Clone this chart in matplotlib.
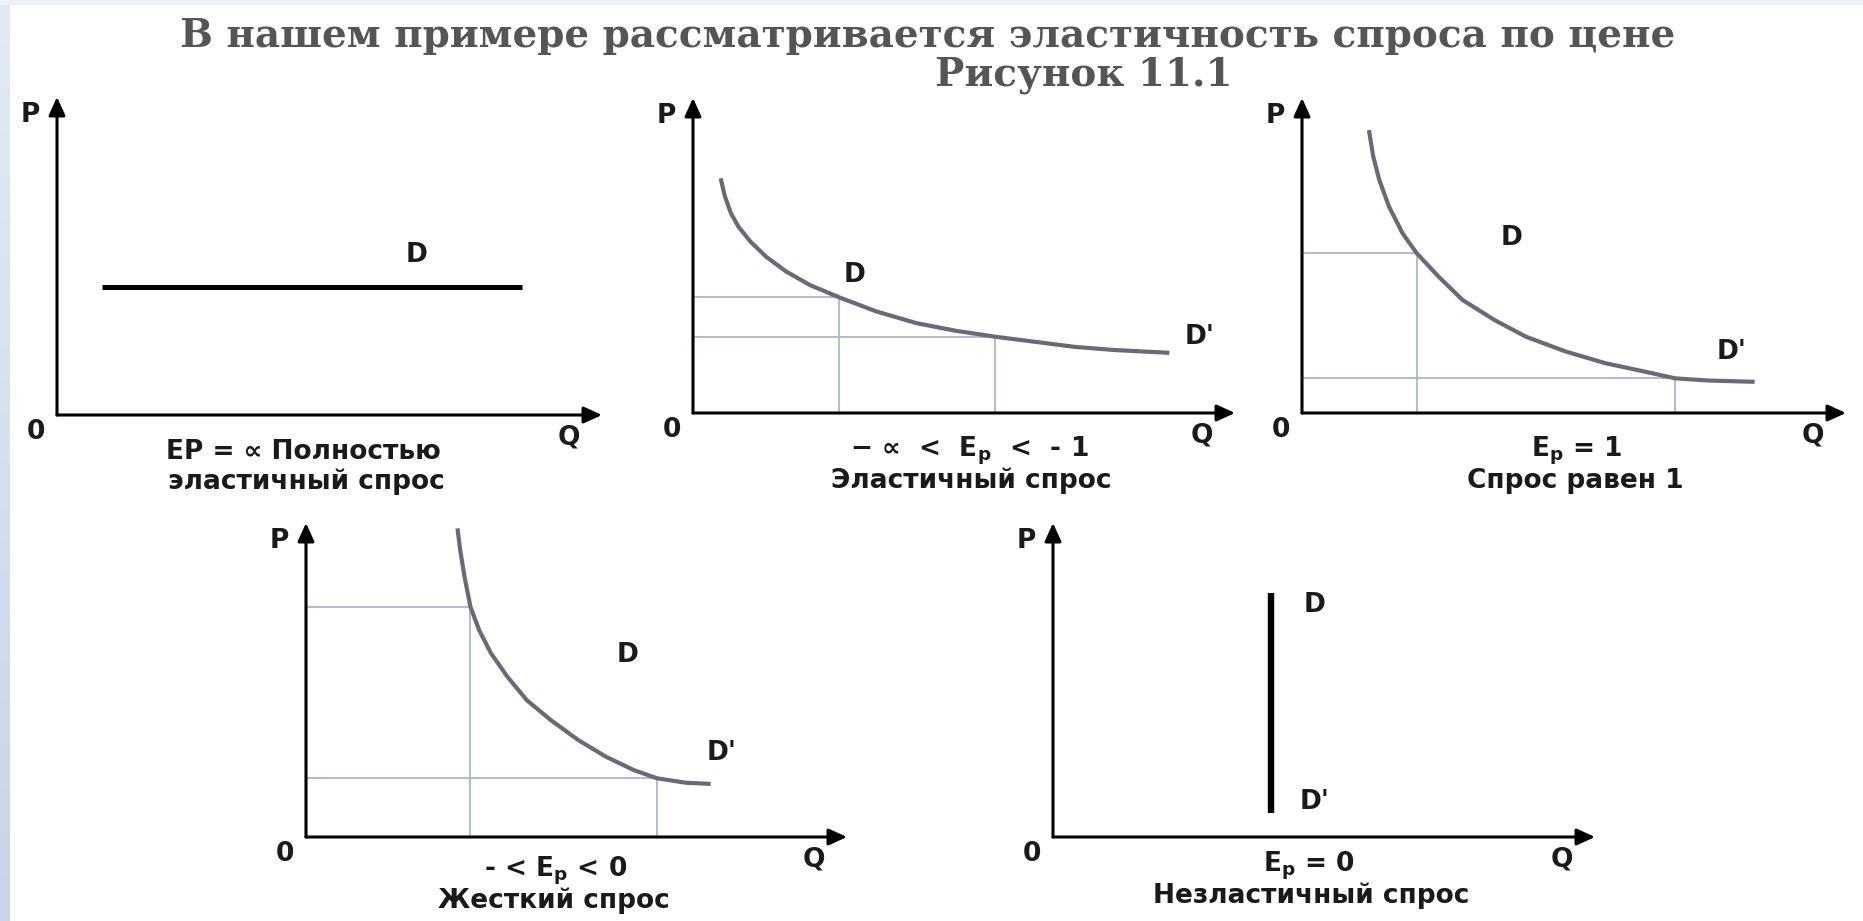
import numpy as np
import matplotlib.pyplot as plt
from matplotlib.colors import LinearSegmentedColormap
from matplotlib.patches import Rectangle

plt.rcParams['mathtext.fontset'] = 'dejavusans'

W, H = 1863, 921

title = "В нашем примере рассматривается эластичность спроса по цене"
subtitle = "Рисунок 11.1"

# panel 1 - perfectly elastic demand (horizontal line)
p1_q = [0.83, 8.53]
p1_p = [4.03, 4.03]

# panel 2 - elastic demand
p2_q = [0.51, 0.59, 0.70, 0.84, 1.06, 1.35, 1.72, 2.16, 2.70, 3.39, 4.13, 4.85, 5.58, 6.31, 7.04, 7.77, 8.79]
p2_p = [7.45, 6.87, 6.34, 5.91, 5.44, 4.96, 4.49, 4.06, 3.67, 3.22, 2.85, 2.61, 2.42, 2.26, 2.10, 2.00, 1.91]
p2_guide_q = [2.70, 5.58]
p2_guide_p = [3.67, 2.42]

# panel 3 - unit elasticity
p3_q = [1.23, 1.31, 1.42, 1.60, 1.85, 2.11, 2.51, 2.95, 3.54, 4.12, 4.85, 5.58, 6.31, 6.86, 7.48, 8.32]
p3_p = [8.98, 8.14, 7.40, 6.55, 5.70, 5.07, 4.33, 3.59, 2.95, 2.42, 1.95, 1.58, 1.31, 1.10, 1.03, 0.99]
p3_guide_q = [2.11, 6.86]
p3_guide_p = [5.07, 1.10]

# panel 4 - inelastic ("rigid") demand
p4_q = [2.80, 2.85, 2.93, 3.04, 3.20, 3.42, 3.72, 4.08, 4.52, 5.03, 5.54, 6.06, 6.49, 7.01, 7.48]
p4_p = [9.83, 9.14, 8.29, 7.33, 6.59, 5.85, 5.11, 4.36, 3.73, 3.09, 2.56, 2.13, 1.87, 1.73, 1.69]
p4_guide_q = [3.04, 6.49]
p4_guide_p = [7.33, 1.87]

# panel 5 - perfectly inelastic (vertical line)
p5_q = [4.02, 4.02]
p5_p = [0.76, 7.77]

# curve labels (text, Q, P) per panel
curve_labels = [
    [("D", 6.59, 5.03)],
    [("D", 2.99, 4.38), ("D'", 9.34, 2.41)],
    [("D", 3.86, 5.56), ("D'", 7.89, 1.94)],
    [("D", 5.95, 5.80), ("D'", 7.69, 2.68)],
    [("D", 4.82, 7.39), ("D'", 4.82, 1.11)],
]

captions = [
    ("EP = ∝ Полностью", "эластичный спрос"),
    (r"− ∝  <  E$_\mathbf{p}$  <  - 1", "Эластичный спрос"),
    (r"E$_\mathbf{p}$ = 1", "Спрос равен 1"),
    (r"- < E$_\mathbf{p}$ < 0", "Жесткий спрос"),
    (r"E$_\mathbf{p}$ = 0", "Незластичный спрос"),
]

# panel boxes in pixels: origin x, origin y, arrow-tip x, arrow-tip y
boxes = [(57, 415, 602, 97), (693, 413, 1235, 98), (1302, 413, 1846, 98),
         (306, 837, 847, 523), (1053, 837, 1595, 523)]
caption_xy = [((303, 452), (306, 482)), ((969, 451), (971, 481)), ((1577, 451), (1575, 481)),
              ((556, 871), (554, 901)), ((1309, 866), (1311, 896))]


def fpos(x, y):
    return x / W, 1 - y / H


fig = plt.figure(figsize=(W / 100, H / 100), dpi=100)
fig.patch.set_facecolor('white')

# slide decoration: light blue strip on the left, thin band on top
sax = fig.add_axes([0, 0, 10 / W, 1])
cmap = LinearSegmentedColormap.from_list('strip', ['#e3eaf4', '#c6d5ea'])
sax.imshow(np.linspace(0, 1, 256).reshape(-1, 1), aspect='auto', cmap=cmap)
sax.axis('off')
fig.patches.append(Rectangle((0, 1 - 4 / H), 1, 4 / H, transform=fig.transFigure,
                             color='#eef1f6', zorder=0))

fig.text(*fpos(928, 36), title, ha='center', va='center', family='DejaVu Serif',
         weight='bold', size=28, color='#555555')
fig.text(*fpos(1084, 75), subtitle, ha='center', va='center', family='DejaVu Serif',
         weight='bold', size=28, color='#555555')

arrow = dict(arrowstyle='-|>,head_length=0.55,head_width=0.25', lw=2.2, color='black',
             mutation_scale=20, shrinkA=0, shrinkB=0)
label_kw = dict(family='DejaVu Sans', weight='bold', size=19, color='#1a1a1a')
cap_kw = dict(family='DejaVu Sans', weight='bold', size=19, color='#1a1a1a',
              ha='center', va='center')

curves = [(None, None), (p2_q, p2_p), (p3_q, p3_p), (p4_q, p4_p), (None, None)]
guides = [(None, None), (p2_guide_q, p2_guide_p), (p3_guide_q, p3_guide_p),
          (p4_guide_q, p4_guide_p), (None, None)]

for i, (x0, y0, x1, yt) in enumerate(boxes):
    ax = fig.add_axes([x0 / W, 1 - y0 / H, (x1 - x0) / W, (y0 - yt) / H])
    ax.set_xlim(0, 10)
    ax.set_ylim(0, 10)
    ax.axis('off')

    ax.annotate('', xy=(1, 0), xytext=(0, 0), xycoords='axes fraction', arrowprops=arrow)
    ax.annotate('', xy=(0, 1), xytext=(0, 0), xycoords='axes fraction', arrowprops=arrow)

    gq, gp = guides[i]
    if gq is not None:
        for q, p in zip(gq, gp):
            ax.plot([0, q], [p, p], color='#a3b2c6', lw=1.2, zorder=1)
            ax.plot([q, q], [0, p], color='#a3b2c6', lw=1.2, zorder=1)

    cq, cp = curves[i]
    if cq is not None:
        ax.plot(cq, cp, color='#6a6a76', lw=3.0, solid_capstyle='butt',
                solid_joinstyle='round', zorder=2)

    if i == 0:
        ax.plot(p1_q, p1_p, color='black', lw=3.6, solid_capstyle='butt', zorder=2)
    if i == 4:
        ax.plot(p5_q, p5_p, color='black', lw=4.6, solid_capstyle='butt', zorder=2)

    for txt, q, p in curve_labels[i]:
        ax.text(q, p, txt, ha='center', va='center', **label_kw)

    fig.text(*fpos(x0 - 27, yt + 18), 'P', ha='center', va='center', **label_kw)
    fig.text(*fpos(x0 - 21, y0 + 17), '0', ha='center', va='center', **label_kw)
    fig.text(*fpos(x1 - 33, y0 + 22), 'Q', ha='center', va='center', **label_kw)

    (cx1, cy1), (cx2, cy2) = caption_xy[i]
    fig.text(*fpos(cx1, cy1), captions[i][0], **cap_kw)
    fig.text(*fpos(cx2, cy2), captions[i][1], **cap_kw)

fig.savefig('out.png', dpi=100)
plt.close(fig)
